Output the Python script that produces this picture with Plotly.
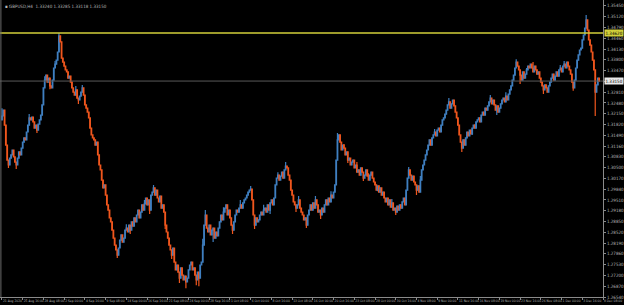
import plotly.graph_objects as go

# ---- data (GBPUSD H4) ----
first_open = 1.3196
close = [
    1.3208, 1.3226, 1.3180, 1.3119, 1.3073, 1.3058, 1.3079, 1.3089,
    1.3104, 1.3083, 1.3067, 1.3058, 1.3079, 1.3098, 1.3089, 1.3110,
    1.3128, 1.3141, 1.3135, 1.3159, 1.3180, 1.3202, 1.3196, 1.3205,
    1.3190, 1.3171, 1.3180, 1.3165, 1.3183, 1.3196, 1.3211, 1.3242,
    1.3294, 1.3318, 1.3333, 1.3312, 1.3324, 1.3300, 1.3294, 1.3318,
    1.3355, 1.3367, 1.3379, 1.3404, 1.3453, 1.3435, 1.3385, 1.3373,
    1.3361, 1.3349, 1.3343, 1.3324, 1.3330, 1.3312, 1.3294, 1.3281,
    1.3272, 1.3288, 1.3263, 1.3257, 1.3269, 1.3281, 1.3294, 1.3272,
    1.3242, 1.3232, 1.3220, 1.3202, 1.3171, 1.3150, 1.3141, 1.3135,
    1.3119, 1.3128, 1.3089, 1.3058, 1.3043, 1.3012, 1.2988, 1.2997,
    1.2966, 1.2936, 1.2920, 1.2896, 1.2884, 1.2859, 1.2834, 1.2813,
    1.2798, 1.2782, 1.2804, 1.2828, 1.2844, 1.2822, 1.2834, 1.2859,
    1.2865, 1.2853, 1.2874, 1.2859, 1.2884, 1.2871, 1.2896, 1.2884,
    1.2905, 1.2920, 1.2896, 1.2914, 1.2936, 1.2920, 1.2939, 1.2957,
    1.2936, 1.2951, 1.2920, 1.2966, 1.2975, 1.2988, 1.2966, 1.2981,
    1.2957, 1.2945, 1.2963, 1.2926, 1.2936, 1.2914, 1.2874, 1.2853,
    1.2834, 1.2813, 1.2798, 1.2782, 1.2804, 1.2761, 1.2737, 1.2752,
    1.2730, 1.2712, 1.2743, 1.2721, 1.2706, 1.2718, 1.2700, 1.2712,
    1.2737, 1.2752, 1.2761, 1.2737, 1.2743, 1.2721, 1.2706, 1.2730,
    1.2712, 1.2752, 1.2761, 1.2813, 1.2874, 1.2905, 1.2865, 1.2853,
    1.2874, 1.2844, 1.2859, 1.2865, 1.2834, 1.2853, 1.2841, 1.2865,
    1.2884, 1.2905, 1.2890, 1.2914, 1.2926, 1.2936, 1.2905, 1.2920,
    1.2896, 1.2874, 1.2859, 1.2884, 1.2905, 1.2920, 1.2914, 1.2926,
    1.2936, 1.2926, 1.2942, 1.2951, 1.2957, 1.2966, 1.2975, 1.2981,
    1.2984, 1.2951, 1.2905, 1.2874, 1.2896, 1.2884, 1.2890, 1.2905,
    1.2914, 1.2905, 1.2920, 1.2926, 1.2914, 1.2936, 1.2920, 1.2942,
    1.2951, 1.2936, 1.2957, 1.2997, 1.3018, 1.3027, 1.3012, 1.3024,
    1.3036, 1.3018, 1.3043, 1.3055, 1.3049, 1.3027, 1.3012, 1.2981,
    1.2966, 1.2945, 1.2936, 1.2926, 1.2936, 1.2951, 1.2926, 1.2914,
    1.2905, 1.2890, 1.2896, 1.2874, 1.2905, 1.2920, 1.2936, 1.2920,
    1.2942, 1.2926, 1.2951, 1.2936, 1.2914, 1.2920, 1.2905, 1.2926,
    1.2914, 1.2936, 1.2951, 1.2936, 1.2957, 1.2945, 1.2966, 1.2957,
    1.2975, 1.2997, 1.3073, 1.3135, 1.3150, 1.3128, 1.3104, 1.3119,
    1.3110, 1.3089, 1.3098, 1.3073, 1.3079, 1.3058, 1.3067, 1.3073,
    1.3049, 1.3058, 1.3036, 1.3043, 1.3027, 1.3049, 1.3036, 1.3018,
    1.3027, 1.3043, 1.3024, 1.3012, 1.3027, 1.3036, 1.3018, 1.3006,
    1.2997, 1.2981, 1.2994, 1.2975, 1.2988, 1.2966, 1.2975, 1.2957,
    1.2945, 1.2957, 1.2936, 1.2951, 1.2929, 1.2942, 1.2920, 1.2926,
    1.2914, 1.2932, 1.2920, 1.2936, 1.2926, 1.2945, 1.2957, 1.2936,
    1.2981, 1.3018, 1.3043, 1.3027, 1.3012, 1.3024, 1.3006, 1.2997,
    1.2981, 1.2994, 1.2975, 1.3012, 1.3043, 1.3058, 1.3073, 1.3089,
    1.3104, 1.3119, 1.3135, 1.3119, 1.3141, 1.3150, 1.3159, 1.3147,
    1.3165, 1.3171, 1.3159, 1.3180, 1.3196, 1.3202, 1.3214, 1.3226,
    1.3242, 1.3251, 1.3232, 1.3245, 1.3257, 1.3239, 1.3220, 1.3202,
    1.3180, 1.3150, 1.3128, 1.3110, 1.3135, 1.3119, 1.3141, 1.3159,
    1.3147, 1.3165, 1.3153, 1.3171, 1.3180, 1.3171, 1.3190, 1.3196,
    1.3202, 1.3190, 1.3211, 1.3220, 1.3211, 1.3232, 1.3226, 1.3239,
    1.3251, 1.3263, 1.3245, 1.3257, 1.3242, 1.3226, 1.3239, 1.3220,
    1.3232, 1.3245, 1.3257, 1.3263, 1.3251, 1.3269, 1.3257, 1.3275,
    1.3288, 1.3300, 1.3318, 1.3333, 1.3355, 1.3373, 1.3361, 1.3349,
    1.3333, 1.3318, 1.3343, 1.3324, 1.3336, 1.3349, 1.3361, 1.3355,
    1.3367, 1.3355, 1.3343, 1.3361, 1.3349, 1.3336, 1.3343, 1.3324,
    1.3312, 1.3300, 1.3288, 1.3303, 1.3294, 1.3281, 1.3300, 1.3312,
    1.3324, 1.3336, 1.3318, 1.3330, 1.3343, 1.3330, 1.3349, 1.3355,
    1.3343, 1.3361, 1.3367, 1.3355, 1.3373, 1.3361, 1.3349, 1.3336,
    1.3312, 1.3294, 1.3318, 1.3355, 1.3379, 1.3395, 1.3410, 1.3416,
    1.3441, 1.3456, 1.3477, 1.3502, 1.3471, 1.3441, 1.3425, 1.3404,
    1.3379, 1.3349, 1.3281, 1.3303, 1.3324, 1.3315,
]
# wick extremes (bar index -> price)
wick_high = {
    0: 1.3232, 21: 1.3214, 33: 1.3330, 41: 1.3376, 44: 1.3462, 57: 1.3300,
    62: 1.3303, 84: 1.2896, 96: 1.2877, 110: 1.2951, 117: 1.2997, 136: 1.2749,
    155: 1.2832, 157: 1.2920, 171: 1.2929, 184: 1.2951, 192: 1.2994, 202: 1.2936,
    213: 1.3036, 219: 1.3067, 229: 1.2963, 242: 1.2963, 254: 1.2978, 259: 1.3156,
    264: 1.3122, 274: 1.3067, 283: 1.3033, 301: 1.2954, 314: 1.3052, 323: 1.3024,
    334: 1.3168, 345: 1.3263, 365: 1.3183, 377: 1.3272, 389: 1.3281, 397: 1.3382,
    405: 1.3355, 410: 1.3373, 431: 1.3364, 434: 1.3376, 451: 1.3517,
}
wick_low = {
    5: 1.3049, 11: 1.3046, 27: 1.3156, 37: 1.3290, 59: 1.3245, 89: 1.2773,
    99: 1.2847, 114: 1.2908, 126: 1.2862, 131: 1.2770, 137: 1.2697, 142: 1.2681,
    150: 1.2690, 152: 1.2687, 163: 1.2822, 178: 1.2847, 195: 1.2862, 207: 1.2908,
    227: 1.2914, 235: 1.2865, 246: 1.2893, 267: 1.3064, 279: 1.3009, 290: 1.2978,
    304: 1.2905, 320: 1.2966, 355: 1.3098, 363: 1.3150, 382: 1.3211, 400: 1.3306,
    418: 1.3275, 441: 1.3285, 458: 1.3208,
}

x_tick_labels = [
    "21 Aug 2020", "25 Aug 16:00", "28 Aug 08:00", "2 Sep 00:00", "4 Sep 16:00",
    "9 Sep 08:00", "14 Sep 00:00", "16 Sep 16:00", "21 Sep 08:00", "24 Sep 00:00",
    "28 Sep 16:00", "1 Oct 08:00", "6 Oct 00:00", "8 Oct 16:00", "13 Oct 08:00",
    "16 Oct 00:00", "20 Oct 16:00", "23 Oct 08:00", "28 Oct 00:00", "30 Oct 16:00",
    "4 Nov 08:00", "9 Nov 00:00", "11 Nov 16:00", "16 Nov 08:00", "19 Nov 00:00",
    "23 Nov 16:00", "26 Nov 08:00", "1 Dec 00:00", "3 Dec 16:00", "8 Dec 08:00",
]
bars_per_label = 16
y_ticks = [
    1.26540, 1.26870, 1.27200, 1.27530, 1.27860, 1.28190, 1.28520, 1.28850,
    1.29180, 1.29510, 1.29840, 1.30170, 1.30500, 1.30830, 1.31160, 1.31490,
    1.31820, 1.32150, 1.32480, 1.32810, 1.33140, 1.33470, 1.33800, 1.34130,
    1.34460, 1.34790, 1.35120, 1.35450,
]
level_price = 1.3462          # yellow horizontal level
title_text = "GBPUSD,H4  1.33240 1.33285 1.33118 1.33150"

# ---- build OHLC ----
n = len(close)
xs = list(range(n))
opens = [first_open] + close[:-1]
highs = [max(o, c) for o, c in zip(opens, close)]
lows = [min(o, c) for o, c in zip(opens, close)]
for k, v in wick_high.items():
    highs[k] = max(highs[k], v)
for k, v in wick_low.items():
    lows[k] = min(lows[k], v)

BULL = "#3f7fc0"
BEAR = "#f0561d"
AX = "#8a8a8a"
TXT = "#b8b8b8"
FONT = "Liberation Sans Narrow, DejaVu Sans Condensed, Liberation Sans"

fig = go.Figure(go.Candlestick(
    x=xs, open=opens, high=highs, low=lows, close=close,
    increasing=dict(line=dict(color=BULL, width=1.2), fillcolor=BULL),
    decreasing=dict(line=dict(color=BEAR, width=1.2), fillcolor=BEAR),
    whiskerwidth=0, hoverinfo="skip", showlegend=False,
))

tickvals_x = [i * bars_per_label for i in range(len(x_tick_labels))]

fig.update_layout(
    width=624, height=305,
    margin=dict(l=0, r=16, t=0, b=8, pad=0),
    paper_bgcolor="black", plot_bgcolor="black",
    font=dict(family=FONT, size=5, color=TXT),
    xaxis=dict(
        range=[-1.53, 464.0], rangeslider=dict(visible=False),
        tickvals=tickvals_x, ticktext=x_tick_labels, tickangle=0,
        ticklabelposition="outside right",
        ticks="outside", ticklen=2, tickcolor=AX, tickwidth=1,
        showgrid=False, zeroline=False, showline=True, linecolor=AX, linewidth=1,
        tickfont=dict(family=FONT, size=3.3, color=TXT),
    ),
    yaxis=dict(
        range=[1.26540, 1.35631], side="right",
        tickvals=y_ticks, ticktext=[f"{v:.5f}" for v in y_ticks],
        ticks="outside", ticklen=2, tickcolor=AX, tickwidth=1,
        showgrid=False, zeroline=False, showline=True, linecolor=AX, linewidth=1,
        tickfont=dict(family=FONT, size=4.5, color=TXT),
    ),
    shapes=[
        dict(type="line", xref="paper", yref="y", x0=0, x1=1, y0=level_price, y1=level_price,
             line=dict(color="#d2cf3a", width=1.5)),
        dict(type="line", xref="paper", yref="y", x0=0, x1=1, y0=close[-1], y1=close[-1],
             line=dict(color="#5a5a5a", width=1)),
        dict(type="line", xref="paper", yref="paper", x0=0.0015, x1=0.0015, y0=0, y1=1,
             line=dict(color="#6a6a6a", width=1)),
    ],
    annotations=[
        dict(xref="paper", yref="y", x=1, y=level_price, xanchor="left", yanchor="middle",
             xshift=1, text=f"{level_price:.5f}", showarrow=False, bgcolor="#d2cf3a",
             font=dict(family=FONT, size=4.5, color="black"), borderpad=0.5),
        dict(xref="paper", yref="y", x=1, y=close[-1], xanchor="left", yanchor="middle",
             xshift=1, text=f"{close[-1]:.5f}", showarrow=False, bgcolor="#e8e8e8",
             font=dict(family=FONT, size=4.5, color="black"), borderpad=0.5),
        dict(xref="paper", yref="paper", x=0.005, y=1, xanchor="left", yanchor="top",
             yshift=-2, text="▪ " + title_text, showarrow=False,
             font=dict(family=FONT, size=4.5, color=TXT)),
    ],
)

fig.write_html("out.html")
